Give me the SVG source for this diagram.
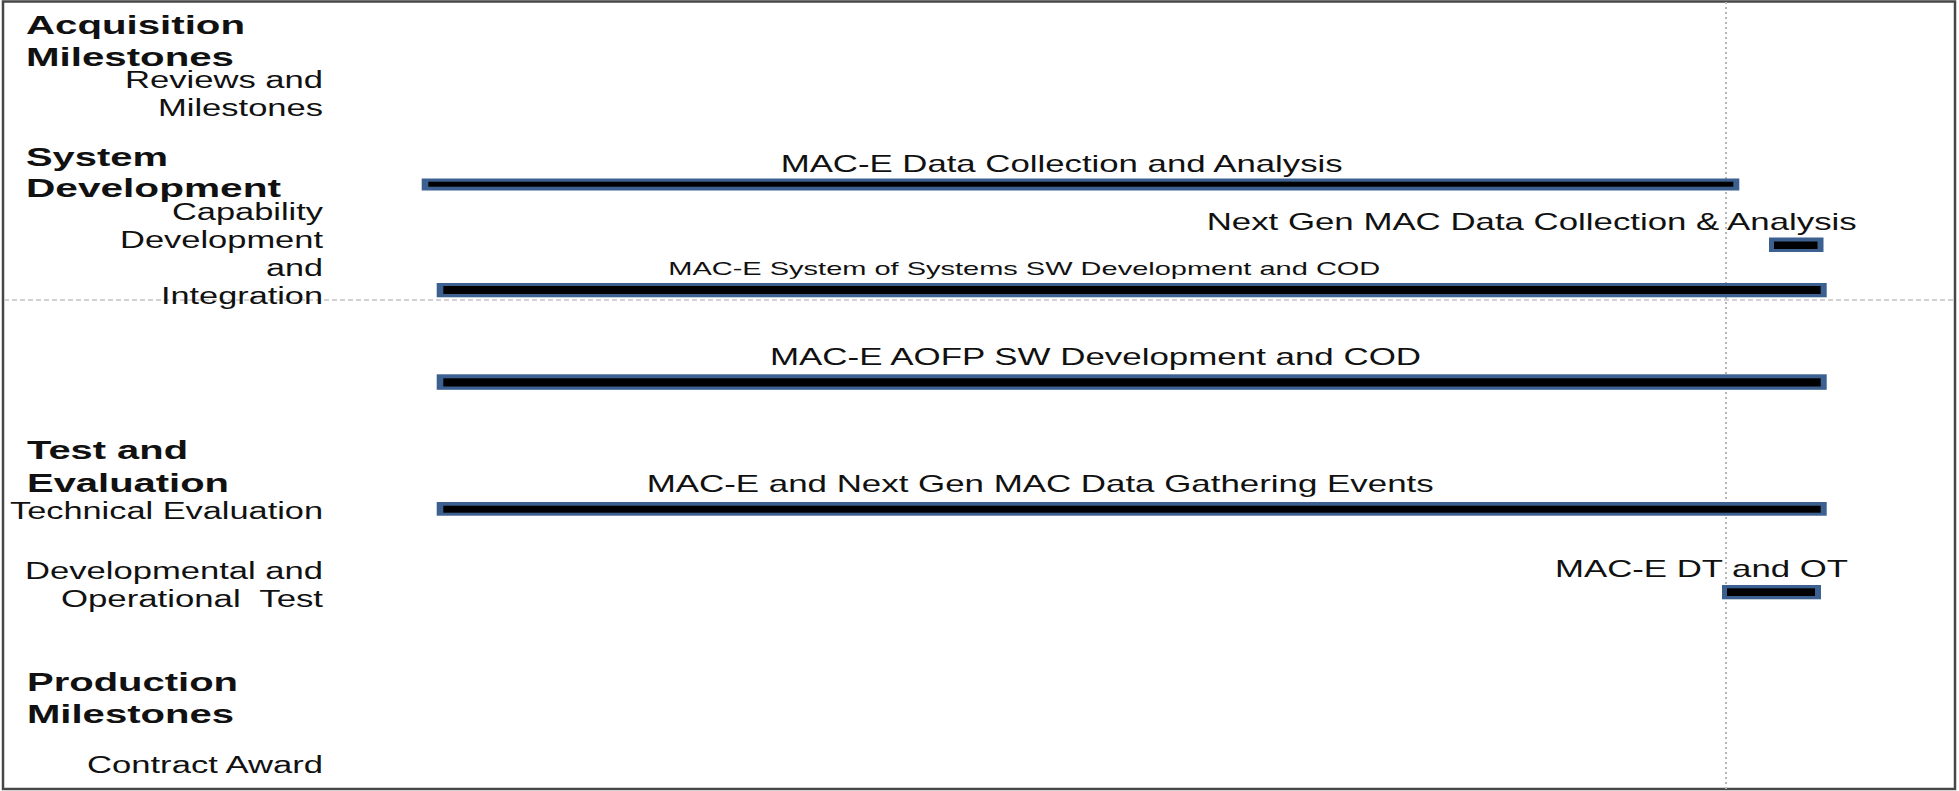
<svg xmlns="http://www.w3.org/2000/svg" width="1959" height="791" viewBox="0 0 1959 791">
  <style>
    text { font-family: "Liberation Sans", Arial, sans-serif; fill: #111; }
    .head { font-weight: bold; font-size: 25.5px; }
    .sub { font-size: 23px; }
    .task { font-size: 24px; }
    .task-sm { font-size: 18.5px; }
    .bar-out { fill: #3c6090; }
    .bar-in { fill: #000; }
    .frame { fill: #fff; stroke: #474747; stroke-width: 2.5; }
    .vline { stroke: #b5b5b5; stroke-width: 2; stroke-dasharray: 2 3; fill: none; }
    .hline { stroke: #c4c4c4; stroke-width: 1.5; stroke-dasharray: 5 3; fill: none; }
  </style>

  <!-- chart frame -->
  <rect class="frame" x="3" y="1.5" width="1952" height="787.5"/>

  <!-- grid lines -->
  <g id="grid">
    <line class="hline" x1="4" y1="300" x2="1954" y2="300"/>
    <line class="vline" x1="1726" y1="2" x2="1726" y2="789"/>
  </g>

  <!-- row headings -->
  <g id="acquisition-milestones">
    <text class="head" x="26" y="34.3" textLength="219" lengthAdjust="spacingAndGlyphs">Acquisition</text>
    <text class="head" x="26" y="66" textLength="208" lengthAdjust="spacingAndGlyphs">Milestones</text>
    <text class="sub" x="125" y="88.3" textLength="198" lengthAdjust="spacingAndGlyphs">Reviews and</text>
    <text class="sub" x="158" y="116" textLength="165" lengthAdjust="spacingAndGlyphs">Milestones</text>
  </g>

  <g id="system-development">
    <text class="head" x="26" y="165.7" textLength="142" lengthAdjust="spacingAndGlyphs">System</text>
    <text class="head" x="26" y="196.7" textLength="255" lengthAdjust="spacingAndGlyphs">Development</text>
    <text class="sub" x="172" y="220" textLength="151" lengthAdjust="spacingAndGlyphs">Capability</text>
    <text class="sub" x="120" y="248.3" textLength="203" lengthAdjust="spacingAndGlyphs">Development</text>
    <text class="sub" x="266" y="276" textLength="57" lengthAdjust="spacingAndGlyphs">and</text>
    <text class="sub" x="161" y="304" textLength="162" lengthAdjust="spacingAndGlyphs">Integration</text>
  </g>

  <g id="test-evaluation">
    <text class="head" x="27" y="459" textLength="161" lengthAdjust="spacingAndGlyphs">Test and</text>
    <text class="head" x="27" y="491.7" textLength="202" lengthAdjust="spacingAndGlyphs">Evaluation</text>
    <text class="sub" x="10" y="519.3" textLength="313" lengthAdjust="spacingAndGlyphs">Technical Evaluation</text>
    <text class="sub" x="25" y="579.3" textLength="298" lengthAdjust="spacingAndGlyphs">Developmental and</text>
    <text class="sub" x="61" y="607.3" textLength="262" lengthAdjust="spacingAndGlyphs" style="white-space:pre">Operational  Test</text>
  </g>

  <g id="production-milestones">
    <text class="head" x="27" y="690.7" textLength="211" lengthAdjust="spacingAndGlyphs">Production</text>
    <text class="head" x="27" y="722.7" textLength="207" lengthAdjust="spacingAndGlyphs">Milestones</text>
    <text class="sub" x="87" y="773.3" textLength="236" lengthAdjust="spacingAndGlyphs">Contract Award</text>
  </g>

  <!-- task bars -->
  <g id="task-mace-data-collection">
    <text class="task" x="780.7" y="171.5" textLength="562" lengthAdjust="spacingAndGlyphs">MAC-E Data Collection and Analysis</text>
    <rect class="bar-out" x="421.7" y="178.5" width="1317.6" height="12"/>
    <rect class="bar-in" x="428.3" y="181.7" width="1305" height="5"/>
  </g>

  <g id="task-nextgen-data-collection">
    <text class="task" x="1206.7" y="230" textLength="650" lengthAdjust="spacingAndGlyphs">Next Gen MAC Data Collection &amp; Analysis</text>
    <rect class="bar-out" x="1769" y="237.5" width="54.5" height="14.5"/>
    <rect class="bar-in" x="1774" y="241.5" width="43.5" height="7.5"/>
  </g>

  <g id="task-sos-sw-development">
    <text class="task-sm" x="668.3" y="275" textLength="712" lengthAdjust="spacingAndGlyphs">MAC-E System of Systems SW Development and COD</text>
    <rect class="bar-out" x="436.7" y="283" width="1390" height="14.3"/>
    <rect class="bar-in" x="443.3" y="286" width="1377.4" height="8"/>
  </g>

  <g id="task-aofp-sw-development">
    <text class="task" x="770" y="365" textLength="651" lengthAdjust="spacingAndGlyphs">MAC-E AOFP SW Development and COD</text>
    <rect class="bar-out" x="436.7" y="374.3" width="1390" height="15.5"/>
    <rect class="bar-in" x="443.3" y="378.3" width="1377.4" height="8.2"/>
  </g>

  <g id="task-data-gathering-events">
    <text class="task" x="646.7" y="491.7" textLength="787" lengthAdjust="spacingAndGlyphs">MAC-E and Next Gen MAC Data Gathering Events</text>
    <rect class="bar-out" x="436.7" y="502" width="1390" height="13.7"/>
    <rect class="bar-in" x="443.3" y="505.7" width="1377.4" height="7"/>
  </g>

  <g id="task-dt-ot">
    <text class="task" x="1555" y="576.7" textLength="293" lengthAdjust="spacingAndGlyphs">MAC-E DT and OT</text>
    <rect class="bar-out" x="1722" y="585" width="99" height="14.3"/>
    <rect class="bar-in" x="1727" y="588.3" width="88" height="7.7"/>
  </g>
</svg>
